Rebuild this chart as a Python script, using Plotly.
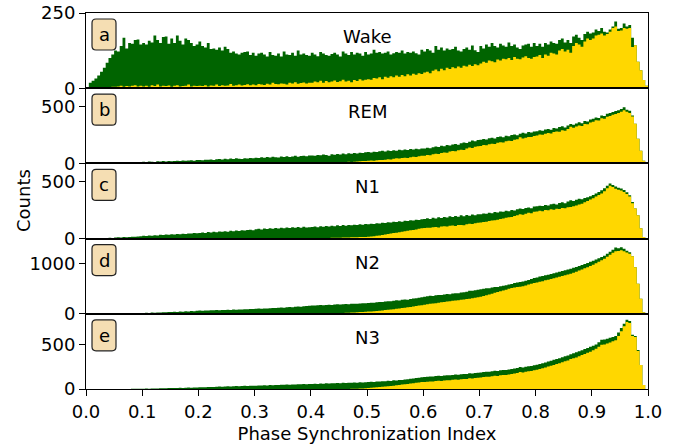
import plotly.graph_objects as go
from plotly.subplots import make_subplots

# ---------------- data (counts per bin, 200 bins of width 0.005 on [0, 1]) ----------------
BIN_WIDTH = 0.005
N_BINS = 200
bin_edges = [round(BIN_WIDTH * i, 4) for i in range(N_BINS + 1)]

stages = ["Wake", "REM", "N1", "N2", "N3"]
letters = ["a", "b", "c", "d", "e"]
y_max = [250, 658, 658, 1500, 852]
y_ticks = [[0, 250], [0, 500], [0, 500], [0, 1000], [0, 500]]
x_ticks = [0.0, 0.1, 0.2, 0.3, 0.4, 0.5, 0.6, 0.7, 0.8, 0.9, 1.0]
x_tick_labels = ["0.0", "0.1", "0.2", "0.3", "0.4", "0.5", "0.6", "0.7", "0.8", "0.9", "1.0"]

wake_total = [
    0, 18, 25, 32, 42, 55, 68, 85, 100, 112, 125, 122, 140, 168, 132, 150, 148, 160, 162, 145,
    150, 145, 158, 152, 175, 160, 150, 170, 172, 148, 165, 150, 175, 158, 145, 165, 160, 150, 140, 145,
    155, 140, 135, 150, 130, 132, 128, 135, 125, 138, 130, 118, 122, 115, 112, 118, 120, 122, 110, 118,
    108, 115, 118, 112, 105, 120, 110, 108, 115, 105, 122, 112, 110, 118, 108, 125, 112, 115, 110, 108,
    118, 112, 106, 120, 115, 110, 108, 114, 118, 112, 105, 122, 115, 110, 120, 112, 118, 115, 108, 120,
    112, 115, 128, 118, 120, 115, 118, 122, 112, 116, 120, 118, 125, 115, 120, 118, 122, 116, 112, 128,
    122, 130, 125, 118, 140, 128, 135, 125, 132, 128, 130, 138, 125, 122, 130, 135, 128, 142, 126, 120,
    140, 132, 145, 138, 150, 140, 135, 148, 142, 138, 152, 140, 145, 135, 130, 142, 145, 148, 138, 150,
    140, 148, 138, 150, 145, 155, 150, 148, 160, 165, 152, 160, 150, 172, 178, 168, 160, 180, 188, 182,
    185, 195, 190, 200, 188, 185, 195, 205, 222, 198, 200, 215, 205, 210, 168, 143, 88, 60, 27, 8,
]
wake_gold = [
    0, 0, 0, 0, 0, 0, 2, 3, 4, 5, 5, 6, 8, 5, 7, 6, 8, 10, 6, 8,
    6, 8, 5, 10, 7, 12, 6, 8, 7, 9, 5, 8, 10, 6, 7, 8, 12, 6, 8, 7,
    8, 7, 10, 6, 9, 8, 12, 7, 10, 8, 9, 14, 8, 10, 12, 9, 11, 13, 10, 12,
    10, 14, 12, 11, 15, 12, 18, 14, 13, 16, 15, 12, 18, 16, 20, 15, 17, 19, 16, 18,
    18, 22, 20, 25, 18, 24, 20, 22, 26, 21, 23, 28, 22, 25, 20, 27, 24, 30, 26, 28,
    30, 28, 34, 32, 36, 30, 38, 35, 40, 36, 42, 38, 44, 40, 46, 42, 48, 45, 50, 47,
    52, 55, 50, 58, 62, 56, 65, 60, 68, 64, 70, 66, 72, 68, 75, 72, 78, 74, 80, 76,
    82, 88, 85, 92, 90, 86, 95, 92, 98, 96, 100, 94, 104, 98, 96, 102, 106, 100, 98, 104,
    105, 110, 100, 112, 108, 118, 115, 112, 125, 130, 122, 128, 118, 140, 150, 145, 138, 155, 165, 160,
    165, 175, 178, 182, 175, 180, 188, 200, 205, 190, 192, 200, 198, 200, 137, 143, 88, 60, 27, 8,
]

rem_total = [
    0, 0, 0, 0, 0, 0, 0, 2, 3, 4, 5, 4, 7, 6, 8, 7, 10, 9, 12, 11,
    14, 12, 16, 15, 13, 18, 17, 20, 16, 22, 19, 21, 24, 20, 26, 23, 25, 28, 24, 30,
    30, 27, 33, 31, 35, 29, 36, 38, 34, 40, 37, 42, 39, 44, 41, 38, 46, 43, 48, 45,
    50, 47, 53, 49, 56, 52, 58, 54, 51, 60, 57, 63, 55, 61, 66, 59, 64, 68, 62, 70,
    70, 66, 74, 71, 77, 73, 68, 80, 76, 83, 78, 86, 81, 88, 84, 91, 87, 94, 90, 97,
    99, 95, 103, 100, 106, 110, 104, 112, 108, 116, 111, 119, 114, 122, 118, 126, 121, 128, 124, 131,
    130, 138, 133, 142, 148, 144, 155, 150, 160, 157, 166, 170, 164, 176, 182, 178, 190, 200, 194, 205,
    206, 214, 210, 220, 224, 218, 230, 236, 228, 242, 238, 248, 252, 246, 260, 268, 262, 274, 270, 280,
    282, 290, 286, 296, 302, 295, 310, 306, 318, 324, 315, 332, 345, 338, 350, 360, 352, 372, 366, 385,
    390, 402, 398, 420, 415, 435, 442, 450, 458, 465, 475, 492, 470, 460, 420, 348, 215, 111, 23, 0,
]
rem_gold = [
    0, 0, 0, 0, 0, 0, 0, 0, 0, 0, 0, 0, 0, 0, 0, 0, 0, 0, 0, 0,
    0, 0, 0, 0, 0, 0, 0, 0, 0, 0, 0, 0, 0, 0, 0, 0, 0, 0, 0, 0,
    0, 0, 0, 0, 0, 0, 0, 0, 0, 0, 0, 0, 0, 0, 0, 0, 0, 0, 0, 0,
    0, 0, 0, 0, 0, 0, 0, 0, 0, 0, 0, 0, 0, 0, 1, 1, 2, 1, 2, 3,
    4, 3, 5, 6, 5, 7, 8, 7, 9, 10, 11, 10, 12, 14, 13, 15, 17, 18, 20, 22,
    23, 25, 24, 28, 30, 29, 33, 36, 34, 40, 44, 42, 47, 50, 48, 54, 58, 56, 62, 66,
    68, 74, 72, 80, 85, 82, 92, 96, 94, 104, 108, 106, 116, 120, 118, 130, 140, 135, 146, 150,
    152, 160, 158, 168, 172, 170, 180, 186, 182, 194, 198, 196, 208, 212, 228, 218, 224, 232, 230, 240,
    244, 252, 250, 260, 266, 262, 274, 280, 276, 290, 286, 300, 320, 312, 322, 332, 328, 345, 342, 358,
    365, 378, 375, 395, 390, 408, 415, 425, 432, 440, 452, 465, 452, 440, 410, 348, 215, 111, 23, 0,
]

n1_total = [
    0, 0, 0, 0, 0, 2, 4, 5, 7, 6, 9, 11, 10, 13, 12, 15, 17, 16, 19, 21,
    24, 22, 27, 26, 30, 28, 33, 31, 35, 34, 38, 36, 40, 39, 43, 41, 45, 44, 48, 47,
    50, 54, 49, 57, 53, 60, 56, 62, 59, 65, 61, 68, 64, 70, 67, 73, 70, 76, 78, 74,
    82, 86, 80, 88, 84, 91, 86, 93, 89, 95, 90, 97, 92, 99, 94, 101, 96, 103, 98, 100,
    102, 106, 100, 108, 104, 111, 106, 113, 109, 116, 110, 118, 113, 120, 116, 122, 118, 125, 121, 127,
    125, 130, 128, 134, 132, 139, 136, 143, 140, 147, 145, 152, 148, 156, 154, 160, 158, 166, 162, 170,
    172, 178, 171, 182, 176, 186, 180, 190, 184, 195, 188, 198, 192, 204, 196, 206, 200, 210, 205, 214,
    214, 220, 218, 226, 222, 232, 228, 238, 235, 244, 240, 250, 246, 256, 263, 258, 268, 272, 266, 280,
    282, 288, 286, 294, 290, 300, 305, 298, 312, 318, 310, 324, 336, 330, 340, 348, 344, 356, 362, 370,
    382, 395, 408, 424, 440, 462, 482, 470, 455, 446, 438, 425, 405, 380, 321, 263, 204, 90, 14, 0,
]
n1_gold = [
    0, 0, 0, 0, 0, 0, 0, 0, 0, 0, 0, 0, 0, 0, 0, 0, 0, 0, 0, 0,
    0, 0, 0, 0, 0, 0, 0, 0, 0, 0, 0, 0, 0, 0, 0, 0, 0, 0, 0, 0,
    0, 0, 0, 0, 0, 0, 0, 0, 0, 0, 0, 0, 0, 0, 0, 0, 0, 0, 0, 0,
    0, 0, 0, 0, 0, 0, 0, 0, 0, 0, 1, 0, 1, 1, 2, 1, 2, 2, 3, 2,
    3, 4, 4, 5, 5, 6, 6, 7, 7, 8, 8, 9, 10, 10, 11, 12, 12, 13, 14, 15,
    16, 18, 21, 24, 28, 32, 36, 40, 44, 48, 52, 56, 60, 64, 68, 72, 76, 80, 86, 90,
    92, 96, 94, 100, 102, 98, 106, 108, 105, 112, 114, 110, 118, 120, 117, 126, 131, 128, 134, 138,
    140, 146, 148, 154, 158, 160, 166, 172, 175, 182, 186, 190, 198, 205, 212, 208, 218, 226, 222, 236,
    238, 244, 240, 250, 248, 256, 252, 262, 258, 268, 266, 274, 277, 284, 290, 298, 306, 318, 330, 342,
    352, 368, 382, 395, 415, 440, 462, 452, 436, 428, 420, 408, 390, 368, 310, 263, 204, 90, 14, 0,
]

n2_total = [
    0, 0, 0, 0, 0, 0, 0, 0, 0, 0, 0, 0, 4, 6, 8, 7, 10, 12, 11, 14,
    16, 20, 18, 24, 22, 28, 26, 32, 30, 36, 34, 40, 38, 45, 42, 50, 48, 55, 52, 60,
    64, 62, 68, 66, 71, 69, 74, 72, 77, 75, 80, 78, 84, 82, 88, 86, 91, 89, 95, 98,
    100, 104, 102, 108, 106, 112, 116, 114, 120, 124, 122, 130, 134, 132, 140, 145, 142, 152, 156, 162,
    167, 164, 170, 174, 171, 177, 180, 178, 184, 188, 185, 191, 195, 192, 198, 202, 199, 205, 210, 212,
    215, 222, 220, 230, 236, 234, 245, 252, 250, 262, 268, 266, 278, 285, 282, 296, 304, 312, 322, 332,
    342, 350, 358, 356, 368, 376, 374, 386, 394, 392, 404, 412, 410, 424, 432, 440, 460, 458, 472, 480,
    488, 500, 510, 508, 524, 536, 534, 550, 562, 570, 585, 596, 612, 622, 636, 645, 660, 676, 692, 712,
    725, 742, 752, 768, 780, 796, 810, 826, 838, 852, 870, 884, 900, 918, 935, 955, 975, 995, 1015, 1040,
    1060, 1085, 1110, 1133, 1160, 1200, 1240, 1280, 1320, 1310, 1325, 1300, 1260, 1227, 1150, 930, 600, 300, 30, 0,
]
n2_gold = [
    0, 0, 0, 0, 0, 0, 0, 0, 0, 0, 0, 0, 0, 0, 0, 0, 0, 0, 0, 0,
    0, 0, 0, 0, 0, 0, 0, 0, 0, 0, 0, 0, 0, 0, 0, 0, 0, 0, 0, 0,
    0, 0, 0, 0, 0, 0, 0, 0, 0, 0, 0, 0, 0, 0, 0, 0, 0, 0, 0, 0,
    0, 0, 0, 0, 0, 0, 0, 0, 0, 0, 0, 0, 0, 0, 0, 0, 1, 1, 2, 2,
    2, 3, 4, 5, 6, 8, 9, 11, 12, 14, 16, 18, 20, 22, 25, 28, 31, 34, 37, 40,
    44, 48, 52, 56, 62, 68, 74, 80, 86, 92, 99, 106, 114, 122, 130, 138, 146, 155, 164, 172,
    180, 190, 198, 205, 212, 220, 228, 236, 244, 252, 260, 266, 272, 280, 286, 294, 300, 310, 318, 328,
    340, 356, 372, 386, 402, 418, 434, 450, 466, 482, 498, 514, 526, 534, 542, 550, 566, 582, 598, 616,
    625, 640, 650, 668, 680, 696, 710, 726, 738, 752, 770, 784, 800, 820, 840, 862, 885, 908, 930, 955,
    980, 1010, 1040, 1067, 1100, 1140, 1180, 1220, 1250, 1255, 1270, 1250, 1225, 1200, 1150, 930, 600, 300, 30, 0,
]

n3_total = [
    0, 0, 0, 0, 0, 0, 0, 0, 0, 0, 0, 0, 0, 0, 0, 0, 2, 3, 2, 4,
    4, 5, 4, 6, 7, 6, 8, 9, 8, 10, 11, 10, 12, 13, 12, 14, 16, 15, 17, 18,
    19, 21, 20, 22, 24, 23, 25, 27, 26, 28, 30, 29, 31, 33, 32, 34, 36, 35, 37, 38,
    38, 40, 39, 42, 41, 44, 43, 46, 45, 48, 47, 50, 49, 52, 51, 54, 53, 56, 55, 57,
    57, 60, 58, 62, 60, 64, 62, 66, 64, 68, 66, 70, 68, 72, 70, 74, 72, 76, 74, 77,
    78, 81, 80, 85, 84, 89, 88, 93, 92, 98, 97, 103, 102, 108, 110, 116, 118, 124, 128, 134,
    137, 140, 143, 141, 146, 149, 148, 153, 156, 155, 160, 163, 162, 167, 170, 169, 178, 176, 182, 185,
    188, 192, 196, 195, 202, 206, 205, 212, 216, 215, 222, 228, 232, 238, 248, 244, 252, 258, 262, 270,
    275, 284, 292, 300, 312, 320, 330, 340, 348, 360, 370, 380, 395, 405, 415, 428, 440, 452, 465, 478,
    490, 505, 530, 557, 560, 570, 580, 590, 600, 640, 690, 740, 784, 770, 614, 600, 443, 273, 45, 0,
]
n3_gold = [
    0, 0, 0, 0, 0, 0, 0, 0, 0, 0, 0, 0, 0, 0, 0, 0, 0, 0, 0, 0,
    0, 0, 0, 0, 0, 0, 0, 0, 0, 0, 0, 0, 0, 0, 0, 0, 0, 0, 0, 0,
    0, 0, 0, 0, 0, 0, 0, 0, 0, 0, 0, 0, 0, 0, 0, 0, 0, 0, 0, 0,
    0, 0, 0, 0, 0, 0, 0, 0, 0, 0, 0, 0, 0, 0, 0, 0, 0, 0, 0, 0,
    0, 0, 0, 0, 0, 0, 0, 0, 0, 0, 0, 0, 1, 1, 2, 3, 4, 5, 6, 8,
    10, 13, 16, 19, 22, 25, 28, 31, 35, 38, 42, 46, 50, 54, 58, 62, 66, 70, 74, 78,
    80, 83, 86, 85, 90, 93, 92, 97, 100, 99, 104, 107, 106, 111, 114, 113, 121, 119, 125, 128,
    131, 135, 139, 138, 145, 149, 148, 155, 159, 158, 165, 171, 175, 181, 192, 187, 195, 201, 205, 213,
    218, 227, 235, 243, 255, 263, 273, 283, 291, 303, 313, 323, 340, 348, 358, 372, 384, 396, 410, 422,
    440, 455, 478, 500, 505, 515, 528, 540, 552, 600, 655, 710, 760, 748, 600, 590, 430, 273, 45, 0,
]

totals = [wake_total, rem_total, n1_total, n2_total, n3_total]
golds = [wake_gold, rem_gold, n1_gold, n2_gold, n3_gold]

GREEN = "#006400"
GOLD = "#ffd700"
FONT = "DejaVu Sans"
FS = 18

# ---------------- figure ----------------
W, H = 694, 445
L, R, T, B = 86, 46, 13, 56
plot_w = W - L - R
plot_h = H - T - B
panel_h = plot_h / 5


def step_trace(counts, color, name):
    # histogram drawn as a filled step outline (no seams between bins)
    return go.Scatter(x=bin_edges, y=list(counts) + [counts[-1]], mode="lines",
                      line=dict(shape="hv", width=0, color=color), fill="tozeroy",
                      fillcolor=color, hoverinfo="skip", name=name)


fig = make_subplots(rows=5, cols=1, shared_xaxes=True, vertical_spacing=0)

for k in range(5):
    fig.add_trace(step_trace(totals[k], GREEN, stages[k] + " all"), row=k + 1, col=1)
    fig.add_trace(step_trace(golds[k], GOLD, stages[k] + " subset"), row=k + 1, col=1)
    fig.update_yaxes(range=[0, y_max[k]], tickvals=y_ticks[k], ticktext=[str(v) for v in y_ticks[k]],
                     showline=True, mirror=True, linecolor="black", linewidth=1,
                     ticks="outside", ticklen=6, tickwidth=1, tickcolor="black",
                     showgrid=False, zeroline=False, automargin=False,
                     tickfont=dict(family=FONT, size=FS, color="black"),
                     row=k + 1, col=1)
    fig.update_xaxes(range=[0, 1], showline=True, mirror=True, linecolor="black", linewidth=1,
                     showgrid=False, zeroline=False, automargin=False, row=k + 1, col=1)
    if k < 4:
        fig.update_xaxes(ticks="", showticklabels=False, row=k + 1, col=1)

    # stage name
    xr = "x domain" if k == 0 else f"x{k + 1} domain"
    yr = "y domain" if k == 0 else f"y{k + 1} domain"
    fig.add_annotation(x=0.5, y=1 - 23.5 / panel_h, xref=xr, yref=yr, text=stages[k],
                       showarrow=False, xanchor="center", yanchor="middle",
                       font=dict(family=FONT, size=FS, color="black"))

    # letter badge (rounded box)
    top_px = T + panel_h * k
    bx0, bx1 = 92, 116
    by0, by1 = top_px + 6, top_px + 37
    px0, px1 = (bx0 - L) / plot_w, (bx1 - L) / plot_w
    py0, py1 = (H - B - by1) / plot_h, (H - B - by0) / plot_h
    rx, ry = 4 / plot_w, 4 / plot_h
    path = (f"M {px0 + rx},{py0} L {px1 - rx},{py0} Q {px1},{py0} {px1},{py0 + ry} "
            f"L {px1},{py1 - ry} Q {px1},{py1} {px1 - rx},{py1} "
            f"L {px0 + rx},{py1} Q {px0},{py1} {px0},{py1 - ry} "
            f"L {px0},{py0 + ry} Q {px0},{py0} {px0 + rx},{py0} Z")
    fig.add_shape(type="path", path=path, xref="paper", yref="paper",
                  fillcolor="#f5deb3", line=dict(color="#222222", width=1.2), layer="above")
    fig.add_annotation(x=(px0 + px1) / 2, y=(py0 + py1) / 2, xref="paper", yref="paper",
                       text=letters[k], showarrow=False, xanchor="center", yanchor="middle",
                       font=dict(family=FONT, size=FS, color="black"))

fig.update_xaxes(tickvals=x_ticks, ticktext=x_tick_labels, ticks="outside", ticklen=6, tickwidth=1,
                 tickcolor="black", tickfont=dict(family=FONT, size=FS, color="black"),
                 title=dict(text="Phase Synchronization Index", font=dict(family=FONT, size=FS, color="black"),
                            standoff=6),
                 row=5, col=1)

fig.add_annotation(x=(23 - L) / plot_w, y=0.5, xref="paper", yref="paper", text="Counts",
                   textangle=-90, showarrow=False, xanchor="center", yanchor="middle",
                   font=dict(family=FONT, size=FS, color="black"))

fig.update_layout(width=W, height=H, margin=dict(l=L, r=R, t=T, b=B),
                  showlegend=False,
                  plot_bgcolor="white", paper_bgcolor="white",
                  font=dict(family=FONT, size=FS, color="black"))

fig.write_html("out.html")
